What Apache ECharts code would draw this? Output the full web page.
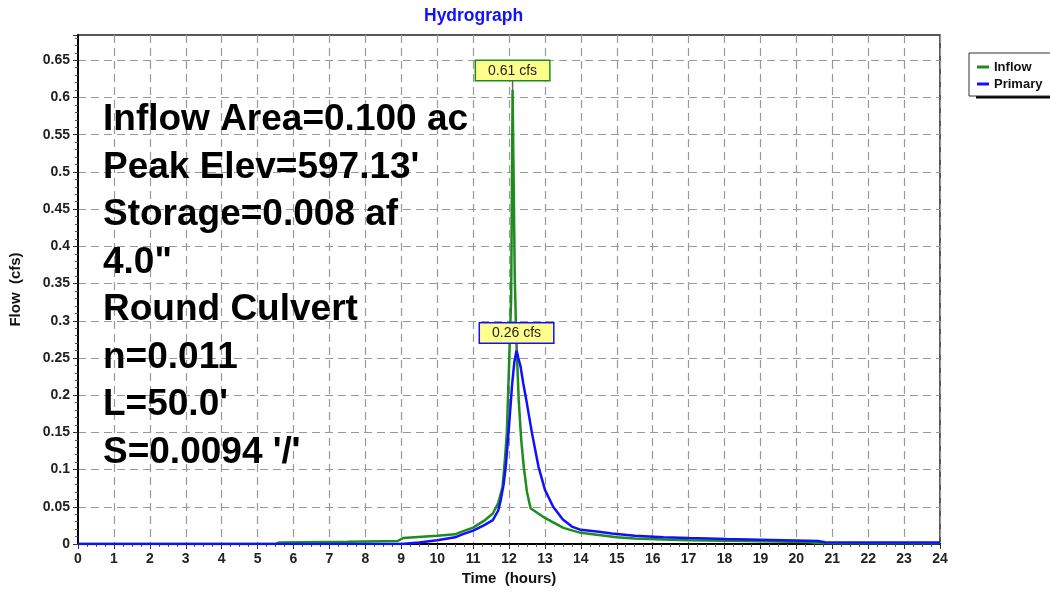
<!DOCTYPE html>
<html>
<head>
<meta charset="utf-8">
<script src="https://cdn.jsdelivr.net/npm/echarts@6/dist/echarts.min.js"></script>
<style>
  html, body { margin: 0; padding: 0; background: #ffffff; }
  #chart { width: 1050px; height: 592px; }
</style>
</head>
<body>
<div id="chart"></div>
<script>
// ---- data (hours, cfs) ----
const inflowTimes  = [0, 5.5, 5.6, 7.5, 8.9, 9.05, 10.0, 10.5, 10.65, 11.0, 11.3, 11.55, 11.7, 11.82, 11.88, 11.94, 12.0, 12.06, 12.1, 12.16, 12.2, 12.27, 12.34, 12.41, 12.5, 12.6, 13.0, 13.5, 13.7, 14.0, 14.5, 15.0, 15.5, 16.3, 17.0, 18.0, 19.0, 20.3, 20.6, 21.0, 24.0];
const inflowValues = [0, 0, 0.002, 0.003, 0.004, 0.008, 0.011, 0.013, 0.016, 0.022, 0.031, 0.041, 0.055, 0.077, 0.11, 0.149, 0.239, 0.33, 0.61, 0.36, 0.28, 0.194, 0.14, 0.104, 0.07, 0.048, 0.035, 0.022, 0.019, 0.015, 0.012, 0.009, 0.0075, 0.006, 0.005, 0.0045, 0.0038, 0.0027, 0.0015, 0.001, 0.001];

const primaryTimes  = [0, 9.0, 9.5, 10.0, 10.5, 10.7, 11.0, 11.3, 11.55, 11.7, 11.77, 11.85, 11.91, 12.0, 12.09, 12.15, 12.21, 12.26, 12.32, 12.4, 12.48, 12.64, 12.82, 13.0, 13.23, 13.5, 13.77, 14.0, 14.5, 14.86, 15.5, 16.3, 17.0, 18.05, 19.3, 20.3, 20.6, 20.8, 22.0, 24.0];
const primaryValues = [0, 0, 0.002, 0.005, 0.009, 0.013, 0.018, 0.025, 0.032, 0.045, 0.059, 0.08, 0.104, 0.158, 0.216, 0.245, 0.26, 0.25, 0.239, 0.215, 0.194, 0.149, 0.104, 0.073, 0.05, 0.033, 0.023, 0.019, 0.0166, 0.014, 0.011, 0.009, 0.008, 0.0068, 0.0055, 0.0045, 0.004, 0.0023, 0.0021, 0.002];

const seriesNames = ['Inflow', 'Primary'];
const peakInflow  = [12.1, 0.61];
const peakPrimary = [12.21, 0.26];
const peakLabels  = ['0.61 cfs', '0.26 cfs'];

const infoLines = [
  'Inflow Area=0.100 ac',
  "Peak Elev=597.13'",
  'Storage=0.008 af',
  '4.0"',
  'Round Culvert',
  'n=0.011',
  "L=50.0'",
  "S=0.0094 '/'"
];

const FONT = 'Liberation Sans, Arial, Helvetica, sans-serif';
const GREEN = '#1e8c1e';
const BLUE = '#1010ff';

function pairs(t, v) { return t.map((x, i) => [x, v[i]]); }

const chart = echarts.init(document.getElementById('chart'), null, { renderer: 'canvas' });

function peakMark(coord, text, borderColor, stemLen) {
  return {
    silent: true,
    animation: false,
    data: [{
      coord: coord,
      symbol: 'rect',
      symbolSize: [1.5, stemLen],
      symbolOffset: [0, -stemLen / 2],
      itemStyle: { color: '#666' },
      label: {
        show: true,
        position: 'top',
        distance: 0,
        formatter: text,
        backgroundColor: '#ffff8c',
        borderColor: borderColor,
        borderWidth: 1.5,
        padding: [3, 12, 2, 12],
        color: '#222',
        fontSize: 14,
        lineHeight: 14,
        fontFamily: FONT
      }
    }]
  };
}

const gridDash = { color: '#999999', width: 1.2, type: [8, 5] };

const option = {
  animation: false,
  backgroundColor: '#ffffff',
  title: {
    text: 'Hydrograph',
    left: 419,
    top: 2,
    textStyle: { fontSize: 17.5, fontWeight: 'bold', color: BLUE, fontFamily: FONT }
  },
  legend: {
    data: seriesNames,
    orient: 'vertical',
    left: 969,
    top: 53,
    padding: [7, 40, 5, 8],
    itemGap: 3,
    itemWidth: 12,
    itemHeight: 3,
    icon: 'rect',
    backgroundColor: '#ffffff',
    borderColor: '#333',
    borderWidth: 1,
    z: 10,
    textStyle: { fontSize: 13, fontWeight: 'bold', color: '#111', fontFamily: FONT, lineHeight: 14 }
  },
  grid: {
    left: 77, right: 110, top: 35, bottom: 48,
    show: true, borderColor: '#222', borderWidth: 1.5, backgroundColor: '#ffffff'
  },
  xAxis: {
    type: 'value',
    min: 0, max: 24, interval: 1,
    name: 'Time  (hours)',
    nameLocation: 'middle',
    nameGap: 27,
    nameTextStyle: { fontSize: 15, fontWeight: 'bold', color: '#111', fontFamily: FONT },
    axisLine: { show: true, onZero: false, lineStyle: { color: '#000', width: 2 } },
    axisTick: { show: true, length: 5, lineStyle: { color: '#333' } },
    minorTick: { show: true, splitNumber: 4, length: 3, lineStyle: { color: '#555' } },
    axisLabel: { fontSize: 14, fontWeight: 'bold', color: '#222', margin: 8, fontFamily: FONT },
    splitLine: { show: true, showMinLine: false, lineStyle: gridDash }
  },
  yAxis: {
    type: 'value',
    min: 0, max: 0.684, interval: 0.05,
    name: 'Flow  (cfs)',
    nameLocation: 'middle',
    nameGap: 55,
    nameTextStyle: { fontSize: 15, fontWeight: 'bold', color: '#111', fontFamily: FONT },
    axisLine: { show: true, lineStyle: { color: '#000', width: 2 } },
    axisTick: { show: true, length: 5, lineStyle: { color: '#333' } },
    minorTick: { show: true, splitNumber: 5, length: 3, lineStyle: { color: '#555' } },
    axisLabel: { fontSize: 14, fontWeight: 'bold', color: '#222', margin: 8, showMaxLabel: false, fontFamily: FONT },
    splitLine: { show: true, showMaxLine: false, lineStyle: gridDash }
  },
  graphic: [
    // legend drop shadow bar (below legend box)
    {
      type: 'rect',
      z: 5,
      silent: true,
      shape: { x: 976, y: 95, width: 80, height: 3.5 },
      style: { fill: '#000' }
    }
  ].concat(infoLines.map((txt, i) => ({
    type: 'text',
    x: 103,
    y: 120 + 47.5 * i,
    z: 50,
    silent: true,
    style: {
      text: txt,
      font: 'bold 37px ' + FONT,
      fill: '#000',
      verticalAlign: 'middle',
      align: 'left'
    }
  }))),
  series: [
    {
      name: seriesNames[0],
      type: 'line',
      showSymbol: false,
      symbol: 'none',
      data: pairs(inflowTimes, inflowValues),
      lineStyle: { color: GREEN, width: 2.5 },
      itemStyle: { color: GREEN },
      z: 3,
      markPoint: peakMark(peakInflow, peakLabels[0], GREEN, 10)
    },
    {
      name: seriesNames[1],
      type: 'line',
      showSymbol: false,
      symbol: 'none',
      data: pairs(primaryTimes, primaryValues),
      lineStyle: { color: BLUE, width: 2.5 },
      itemStyle: { color: BLUE },
      z: 4,
      markPoint: peakMark(peakPrimary, peakLabels[1], BLUE, 8)
    }
  ]
};

chart.setOption(option);
</script>
</body>
</html>
